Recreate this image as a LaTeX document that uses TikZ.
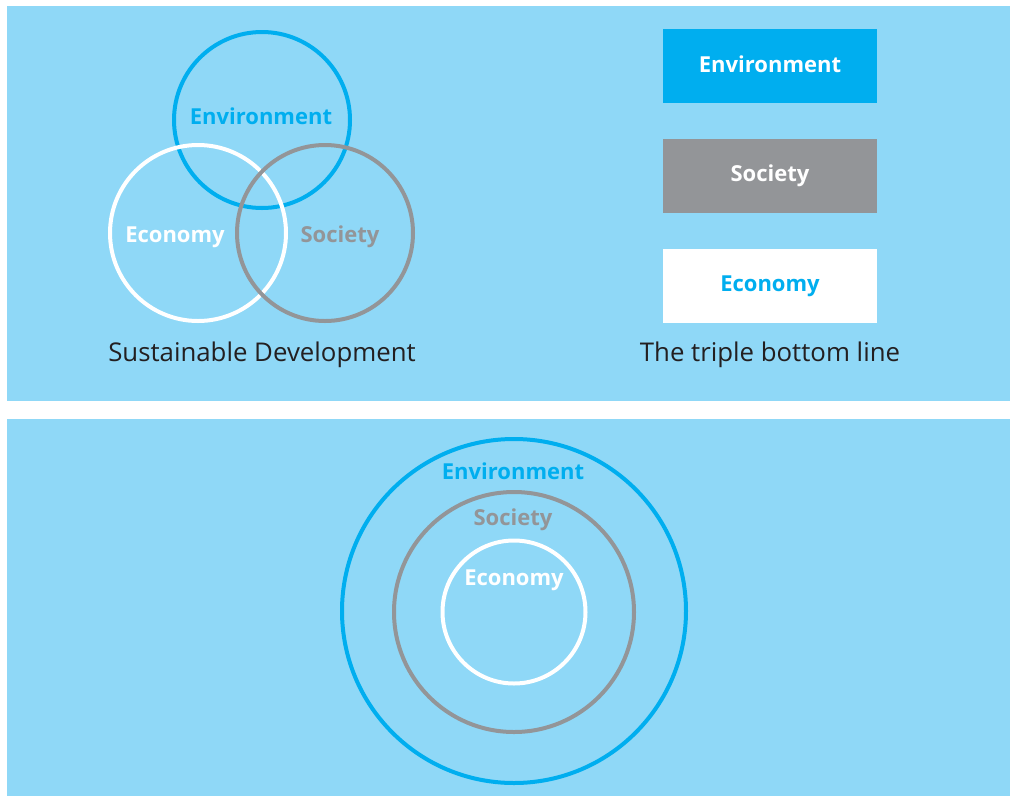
\documentclass[tikz,border=0pt]{standalone}
\usepackage{fontspec}
\setmainfont{Open Sans}
\begin{document}
\definecolor{panel}{HTML}{8FD8F7}
\definecolor{envblue}{HTML}{00AEEF}
\definecolor{socgray}{HTML}{939598}
\definecolor{ink}{HTML}{231F20}
\begin{tikzpicture}[x=1pt,y=-1pt,
  ring/.style={draw,line width=4pt},
  lbl/.style={font=\bfseries\fontsize{22}{26}\selectfont,inner sep=0pt},
  caption/.style={font=\fontsize{25.8}{30}\selectfont,text=ink,inner sep=0pt},
  tbox/.style={minimum width=214pt,minimum height=74pt,inner sep=0pt,
               font=\bfseries\fontsize{22}{26}\selectfont}]
  % canvas and the two panels
  \fill[white] (0,0) rectangle (1010,796);
  \useasboundingbox (0,0) rectangle (1010,796);
  \fill[panel] (7,6) rectangle (1010,401);
  \fill[panel] (7,419) rectangle (1010,796);

  % Venn diagram of sustainable development
  \draw[ring,envblue] (262,120) circle (88);
  \draw[ring,white]   (198,233) circle (88);
  \draw[ring,socgray] (325,233) circle (88);
  \node[lbl,text=envblue] (venv) at (261,116) {Environment};
  \node[lbl,text=white]   (veco) at (175,237) {Economy};
  \node[lbl,text=socgray] (vsoc) at (340,237) {Society};
  \node[caption] (sd) at (262,355) {Sustainable Development};

  % triple bottom line boxes
  \node[tbox,fill=envblue,text=white] (benv) at (770,66)  {};
  \node[lbl,text=white] at (770,64) {Environment};
  \node[tbox,fill=socgray,text=white] (bsoc) at (770,175.5) {Society};
  \node[tbox,fill=white,text=envblue] (beco) at (770,286) {Economy};
  \node[caption] (tbl) at (770,355) {The triple bottom line};

  % nested circles
  \draw[ring,envblue] (514,611) circle (172);
  \draw[ring,socgray] (514,612) circle (120);
  \draw[ring,white]   (514,612) circle (71.5);
  \node[lbl,text=envblue] (nenv) at (513,471) {Environment};
  \node[lbl,text=socgray] (nsoc) at (513,520) {Society};
  \node[lbl,text=white]   (neco) at (514,580) {Economy};
\end{tikzpicture}
\end{document}
